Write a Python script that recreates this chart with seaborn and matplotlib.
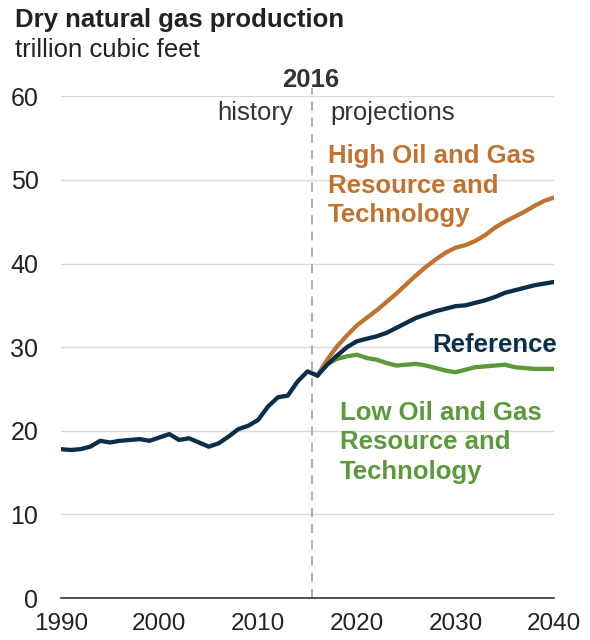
import numpy as np
import pandas as pd
import seaborn as sns
import matplotlib.pyplot as plt

# history, 1990-2016 (trillion cubic feet)
hist_years = list(range(1990, 2017))
hist_vals = [17.8, 17.7, 17.8, 18.1, 18.8, 18.6, 18.8, 18.9, 19.0, 18.8,
             19.2, 19.6, 18.9, 19.1, 18.6, 18.1, 18.5, 19.3, 20.2, 20.6,
             21.3, 22.9, 24.0, 24.2, 25.9, 27.1, 26.6]

# projections, 2016-2040
proj_years = list(range(2016, 2041))
reference = [26.6, 27.9, 29.0, 30.0, 30.7, 31.0, 31.3, 31.7, 32.3, 32.9,
             33.5, 33.9, 34.3, 34.6, 34.9, 35.0, 35.3, 35.6, 36.0, 36.5,
             36.8, 37.1, 37.4, 37.6, 37.8]
high_res = [26.6, 28.5, 30.1, 31.4, 32.6, 33.5, 34.4, 35.4, 36.4, 37.5,
            38.6, 39.6, 40.5, 41.3, 41.9, 42.2, 42.7, 43.4, 44.3, 45.0,
            45.6, 46.2, 46.9, 47.5, 47.9]
low_res = [26.6, 28.0, 28.6, 28.9, 29.1, 28.7, 28.5, 28.1, 27.8, 27.9,
           28.0, 27.8, 27.5, 27.2, 27.0, 27.3, 27.6, 27.7, 27.8, 27.9,
           27.6, 27.5, 27.4, 27.4, 27.4]

navy = '#0B2F47'
orange = '#BF7330'
green = '#5A9A3A'
grey = '#333333'
fs = 18.5

sns.set_style('white')
plt.rcParams['font.family'] = ['Liberation Sans', 'DejaVu Sans']

fig = plt.figure(figsize=(5.9, 6.4), dpi=100)
ax = fig.add_axes([0.1029, 0.0656, 0.8366, 0.784])

hist = pd.DataFrame({'year': hist_years, 'value': hist_vals})
proj = pd.DataFrame({'year': proj_years, 'Reference': reference,
                     'High': high_res, 'Low': low_res})

sns.lineplot(data=proj, x='year', y='Low', color=green, linewidth=3.1, ax=ax)
sns.lineplot(data=proj, x='year', y='High', color=orange, linewidth=3.1, ax=ax)
sns.lineplot(data=proj, x='year', y='Reference', color=navy, linewidth=3.1, ax=ax)
sns.lineplot(data=hist, x='year', y='value', color=navy, linewidth=3.1, ax=ax)

ax.set_xlim(1990, 2040)
ax.set_ylim(0, 60)
ax.set_xticks(range(1990, 2041, 10))
ax.set_yticks(range(0, 61, 10))
ax.set_xlabel('')
ax.set_ylabel('')

for v in range(10, 61, 10):
    ax.axhline(v, color='#D9D9D9', linewidth=1, zorder=0)

for s in ['top', 'right', 'left']:
    ax.spines[s].set_visible(False)
ax.spines['bottom'].set_color(grey)
ax.spines['bottom'].set_linewidth(1.2)
ax.tick_params(axis='x', direction='out', length=6, width=1.2, color=grey,
               labelsize=17.5, labelcolor='#222222', pad=5)
ax.tick_params(axis='y', length=0, labelsize=18, labelcolor='#222222', pad=16)

# history / projections divider
ax.axvline(2015.5, ymin=0, ymax=1.016, color='#A6A6A6', linewidth=1.3,
           linestyle=(0, (5, 4)), clip_on=False, zorder=1)
ax.text(2015.3, 61.9, '2016', ha='center', va='center', fontsize=fs,
        fontweight='bold', color='#333333')
ax.text(2013.5, 57.95, 'history', ha='right', va='center', fontsize=fs,
        color='#333333')
ax.text(2017.3, 57.95, 'projections', ha='left', va='center', fontsize=fs,
        color='#333333')

ax.text(2017.1, 49.3, 'High Oil and Gas\nResource and\nTechnology', ha='left',
        va='center', fontsize=fs, fontweight='bold', color=orange, linespacing=1.28)
ax.text(2040.3, 30.3, 'Reference', ha='right', va='center', fontsize=fs,
        fontweight='bold', color=navy)
ax.text(2018.3, 18.6, 'Low Oil and Gas\nResource and\nTechnology', ha='left',
        va='center', fontsize=fs, fontweight='bold', color=green, linespacing=1.28)

fig.text(0.025, 0.968, 'Dry natural gas production', ha='left', va='center',
         fontsize=fs, fontweight='bold', color='#222222')
fig.text(0.025, 0.922, 'trillion cubic feet', ha='left', va='center',
         fontsize=fs, color='#222222')

fig.savefig('out.png', dpi=100)
